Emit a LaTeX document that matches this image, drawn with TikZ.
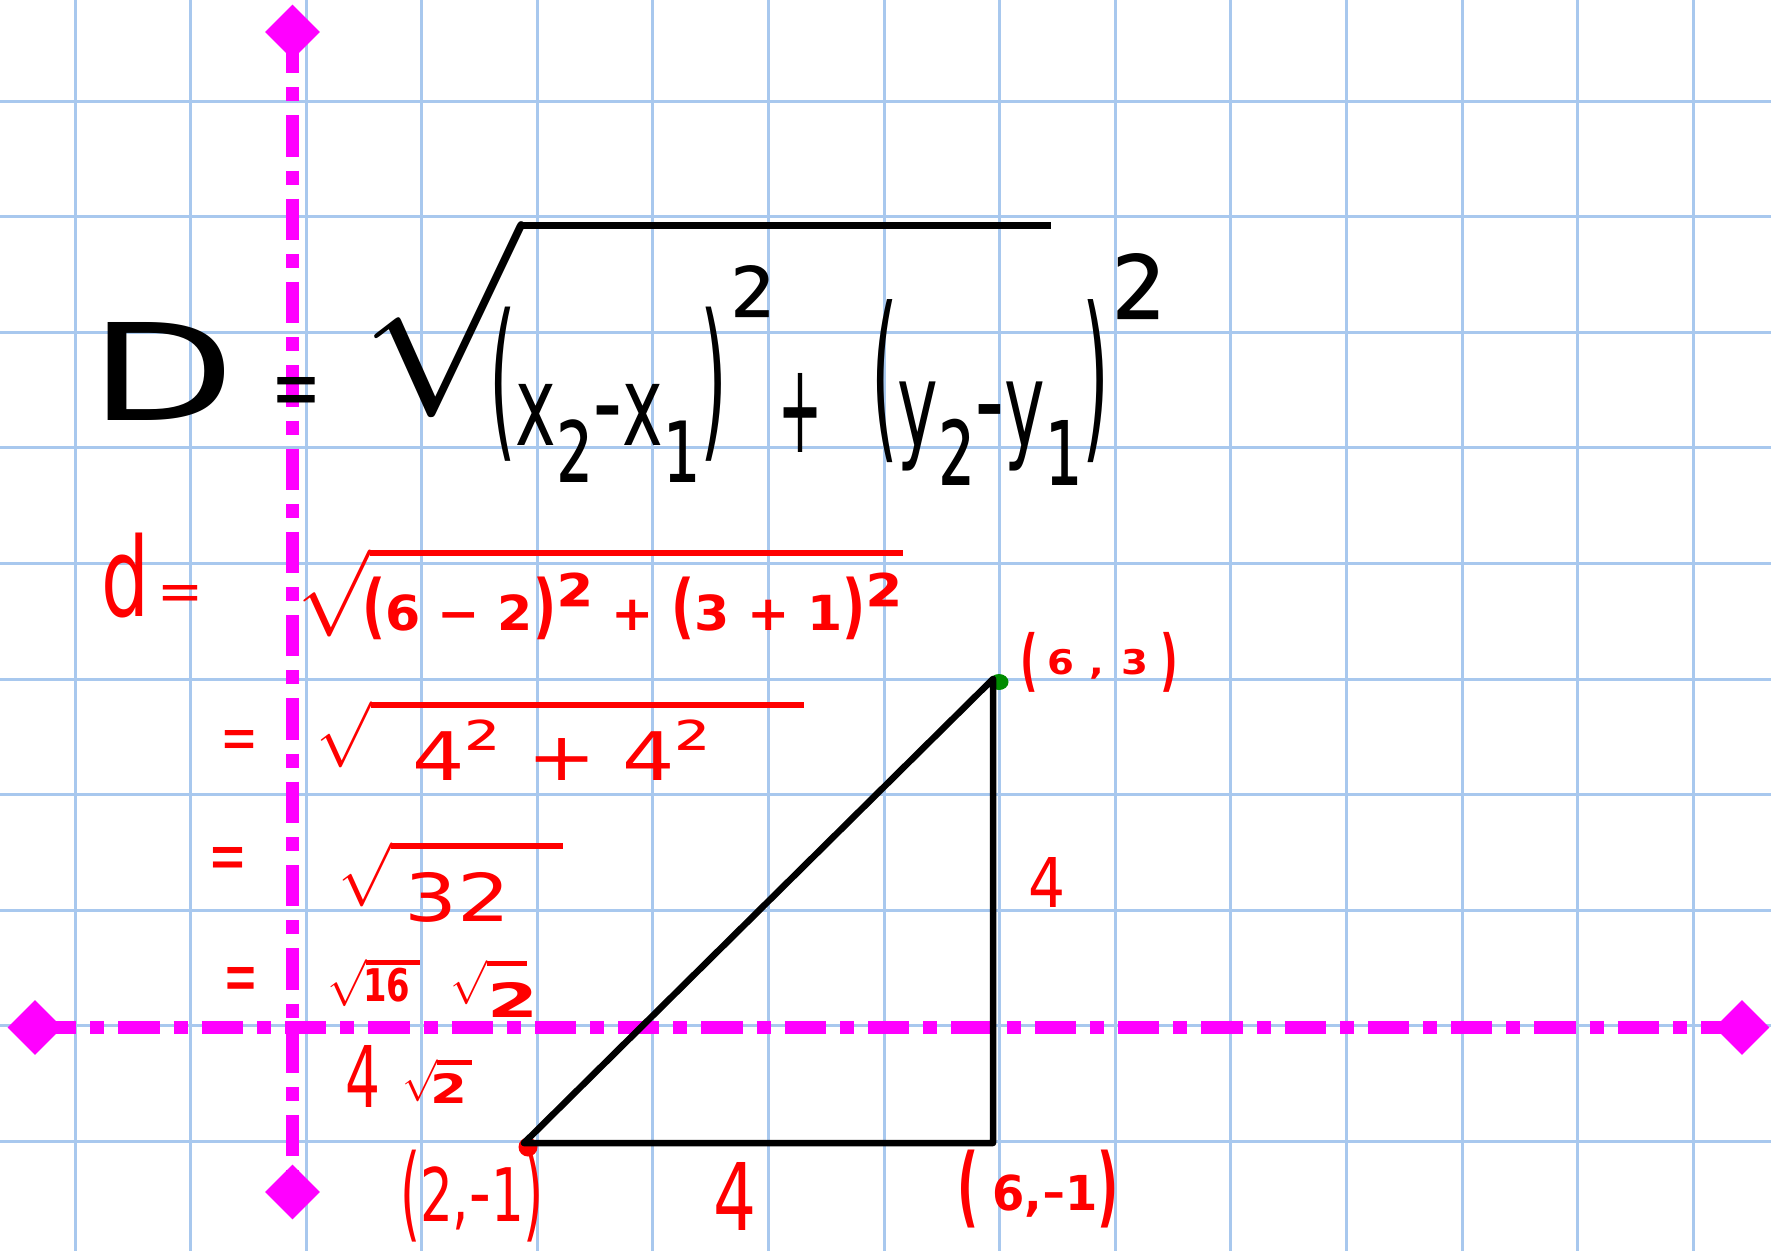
\documentclass[tikz,border=0pt]{standalone}
\usepackage{graphicx}
\usepackage{fontspec}
\setmainfont{DejaVu Sans}
\usetikzlibrary{shapes.geometric}
\definecolor{gridblue}{RGB}{168,200,238}
\definecolor{mag}{RGB}{255,0,255}
\definecolor{pen}{RGB}{255,0,0}
\definecolor{dotgreen}{RGB}{0,140,0}
% fit content to an exact box (width, total height) in pt
\newcommand\fitto[3]{\resizebox*{#1pt}{#2pt}{#3}}
% radical sign (ordinary class, top at 0.4pt) with a bar of given width and thickness
\newcommand\myrad[2]{\mbox{$\mathchar"0270$\rule[\dimexpr0.4pt-#2pt\relax]{#1pt}{#2pt}}}
% tall parenthesis: vertical scale, raise
\newcommand\pp[3]{\raisebox{#2em}{\scalebox{1}[#1]{#3}}}
% scaled and shifted super/subscript
\newcommand\hsq[3]{\raisebox{#2em}{\scalebox{#1}{#3}}}
\tikzset{
  gridline/.style={draw=gridblue, line width=3pt},
  axisline/.style={draw=mag, line width=13.3pt, line cap=butt,
    dash pattern=on 41.3pt off 14pt on 14pt off 14pt},
  endmark/.style={diamond, fill=mag, minimum size=55pt, inner sep=0pt, aspect=1},
  tri/.style={draw=black, line width=6.5pt, line join=round, line cap=round},
  fit box/.style={inner sep=0pt, outer sep=0pt, anchor=north west},
  ink/.style={fit box, text=black},
  red ink/.style={fit box, text=pen},
  heavy red ink/.style={red ink, font=\bfseries},
  reddot/.style={circle, fill=pen, minimum size=19pt, inner sep=0pt},
  greendot/.style={ellipse, fill=dotgreen, minimum width=19pt, minimum height=16pt, inner sep=0pt}
}
\begin{document}
\begin{tikzpicture}[x=1pt,y=-1pt]
\useasboundingbox (0,0) rectangle (1771,1251);
\fill[white] (0,0) rectangle (1771,1251);
% grid paper
\foreach \k in {0,...,14} \draw[gridline] ({75+115.59*\k},0) -- ({75+115.59*\k},1251);
\foreach \k in {0,...,9} \draw[gridline] (0,{101+115.6*\k}) -- (1771,{101+115.6*\k});
% axes
\coordinate (ytop) at (292.5,32);
\coordinate (ybot) at (292.5,1192);
\coordinate (xleft) at (35,1027.5);
\coordinate (xright) at (1742,1027.5);
\draw[axisline] (ytop) -- (ybot);
\draw[axisline] (xleft) -- (xright);
\node[endmark] (mtop) at (ytop) {};
\node[endmark] (mbot) at (ybot) {};
\node[endmark] (mleft) at (xleft) {};
\node[endmark] (mright) at (xright) {};
% triangle
\coordinate (A) at (524,1143);
\coordinate (B) at (993,1143);
\coordinate (C) at (993,679);
\node[reddot] (dotA) at (528,1147) {};
\node[greendot] (dotC) at (999,682) {};
\draw[tri] (A) -- (B) -- (C) -- cycle;
% black formula
\node[ink] (D) at (89,322) {\fitto{146}{98}{D}};
\node[ink] (eqD) at (271,377) {\fitto{50}{41}{=}};
\node[ink] (radD) at (360,222) {\fitto{690}{196}{\myrad{27.4}{0.36}}};
\node[ink] (gx) at (489,307) {\fitto{238}{175}{\pp{1.55}{0.06}{(}x\hsq{1.35}{-0.33}{₂}\scalebox{0.5}[1]{−}x\hsq{1.35}{-0.33}{₁}\pp{1.55}{0.06}{)}}};
\node[ink] (sqx) at (730,265) {\fitto{46}{93}{²}};
\node[ink] (plusD) at (778,373) {\fitto{44}{79}{+}};
\node[ink] (gy) at (871,300) {\fitto{238}{185}{\pp{1.55}{0.06}{(}y\hsq{1.35}{-0.33}{₂}\scalebox{0.5}[1]{−}y\hsq{1.35}{-0.33}{₁}\pp{1.55}{0.06}{)}}};
\node[ink] (sqy) at (1111,253) {\fitto{56}{118}{²}};
% red working
\node[red ink] (d) at (101,533) {\fitto{48}{85}{d}};
\node[red ink] (eq0) at (157,585) {\fitto{46}{25}{=}};
\node[red ink] (rad1) at (297,550) {\fitto{606}{87}{\myrad{61.3}{0.69}}};
\node[heavy red ink] (c1) at (362,573) {\fitto{541}{67}{\pp{1.46}{0}{(}6 − 2\pp{1.46}{0}{)}\hsq{1.69}{-0.06}{²} + \pp{1.46}{0}{(}3 + 1\pp{1.46}{0}{)}\hsq{1.69}{-0.06}{²}}};
\node[red ink] (eq1) at (220,730) {\fitto{38}{29}{=}};
\node[red ink] (rad2) at (316,702) {\fitto{488}{66}{\myrad{65.6}{0.91}}};
\node[red ink] (c2) at (412,720) {\fitto{299}{60}{4\hsq{1.1}{0.08}{²} + 4\hsq{1.1}{0.08}{²}}};
\node[red ink] (eq2) at (208,847) {\fitto{39}{33}{=}};
\node[red ink] (rad3) at (338,843) {\fitto{225}{64}{\myrad{26.8}{0.94}}};
\node[red ink] (c3) at (404,872) {\fitto{106}{50}{32}};
\node[red ink] (eq3) at (223,967) {\fitto{35}{35}{=}};
\node[red ink] (rad4a) at (327,960) {\fitto{93}{47}{\myrad{11.5}{1.06}}};
\node[heavy red ink] (c4a) at (363,968) {\fitto{47}{34}{16}};
\node[red ink] (rad4b) at (450,961) {\fitto{77}{44}{\myrad{9.2}{1.14}}};
\node[heavy red ink] (c4b) at (487,982) {\fitto{51}{35}{2}};
\node[red ink] (c5a) at (345,1045) {\fitto{35}{62}{4}};
\node[red ink] (rad5) at (402,1060) {\fitto{70}{42}{\myrad{8.3}{1.19}}};
\node[heavy red ink] (c5b) at (430,1073) {\fitto{37}{30}{2}};
% point and side labels
\node[heavy red ink] (lC) at (1020,632) {\fitto{158}{60}{\pp{1.98}{-0.24}{(}\hspace{.25em}6\hspace{.4em},\hspace{.45em}3\hspace{.3em}\pp{1.98}{-0.24}{)}}};
\node[red ink] (lBC) at (1028,857) {\fitto{37}{50}{4}};
\node[red ink] (lAB) at (713,1162) {\fitto{43}{68}{4}};
\node[red ink] (lA) at (400,1150) {\fitto{144}{92}{\pp{1.4}{-0.1}{(}2,\scalebox{0.5}[1]{−}1\pp{1.4}{-0.1}{)}}};
\node[heavy red ink] (lB) at (957,1150) {\fitto{162}{78}{\pp{1.82}{-0.13}{(}\hspace{.3em}6,\scalebox{0.6}[1]{−}1\pp{1.82}{-0.13}{)}}};
\end{tikzpicture}
\end{document}
